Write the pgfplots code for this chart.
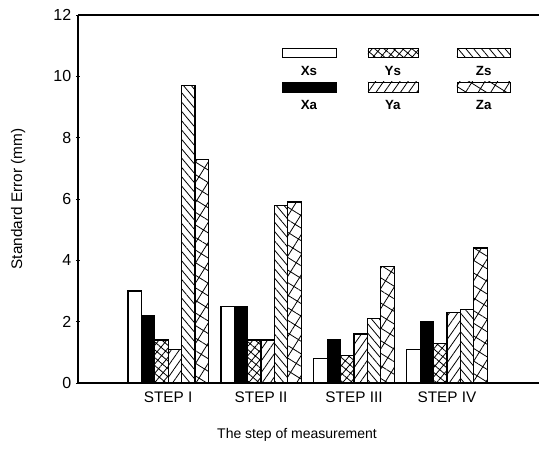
\documentclass[border=0pt]{standalone}
\usepackage{fontspec}
\setmainfont{Liberation Sans}
\usepackage{pgfplots}
\pgfplotsset{compat=1.18}
\usetikzlibrary{patterns.meta,calc}

\tikzset{
  pXs/.style={draw=black, fill=white},
  pXa/.style={draw=black, fill=black},
  pYs/.style={draw=black, fill=white, postaction={pattern={Hatch[angle=50,distance=4.5pt,line width=0.6pt]}}},
  pYa/.style={draw=black, fill=white, postaction={pattern={Lines[angle=55,distance=5pt,line width=0.6pt]}}},
  pZs/.style={draw=black, fill=white, postaction={pattern={Lines[angle=-50,distance=4.5pt,line width=0.6pt]}}},
  pZa/.style={draw=black, fill=white, postaction={pattern={Hatch[angle=58,distance=8pt,line width=0.6pt]}}},
}

\begin{document}
\begin{tikzpicture}
\begin{axis}[
    name=ax,
    scale only axis,
    width=345.75pt, height=276pt,
    xmin=-0.97, xmax=3.99,
    ymin=0, ymax=12,
    ytick={0,2,...,12},
    xtick={0,1,2,3},
    xticklabels={STEP I, STEP II, STEP III, STEP IV},
    x tick style={draw=none},
    y tick style={black, line width=0.6pt},
    tick align=inside,
    major tick length=3pt,
    axis x line=box, axis y line=left,
    axis line style={-, line width=0.8pt},
    ybar=0pt, bar width=0.144,
    every axis plot/.append style={line width=0.9pt},
    /pgf/number format/assume math mode=true,
    yticklabel style={font=\fontsize{12}{14}\selectfont},
    xticklabel style={font=\fontsize{11.5}{13}\selectfont},
    ylabel={Standard Error (mm)},
    xlabel={The step of measurement},
    every axis y label/.style={at={(axis description cs:-0.13,0.5)}, rotate=90, anchor=center, font=\fontsize{11.5}{14}\selectfont},
    every axis x label/.style={at={(axis description cs:0.475,-0.141)}, anchor=center, font=\fontsize{10.5}{12}\selectfont},
]
% Xs
\addplot[pXs] coordinates {(0,3.0) (1,2.5) (2,0.8) (3,1.1)};
% Xa
\addplot[pXa] coordinates {(0,2.2) (1,2.5) (2,1.4) (3,2.0)};
% Ys
\addplot[pYs] coordinates {(0,1.4) (1,1.4) (2,0.9) (3,1.3)};
% Ya
\addplot[pYa] coordinates {(0,1.1) (1,1.4) (2,1.6) (3,2.3)};
% Zs
\addplot[pZs] coordinates {(0,9.7) (1,5.8) (2,2.1) (3,2.4)};
% Za
\addplot[pZa] coordinates {(0,7.3) (1,5.9) (2,3.8) (3,4.4)};

% legend, three columns, label under each swatch
\draw[pXs] (rel axis cs:0.4425,0.886) rectangle (rel axis cs:0.5597,0.910);
\draw[pXa] (rel axis cs:0.4425,0.791) rectangle (rel axis cs:0.5597,0.818);
\draw[pYs] (rel axis cs:0.629,0.886) rectangle (rel axis cs:0.7375,0.910);
\draw[pYa] (rel axis cs:0.629,0.791) rectangle (rel axis cs:0.7375,0.818);
\draw[pZs] (rel axis cs:0.822,0.886) rectangle (rel axis cs:0.937,0.910);
\draw[pZa] (rel axis cs:0.822,0.791) rectangle (rel axis cs:0.937,0.818);
\begin{scope}[every node/.style={font=\bfseries\fontsize{10}{12}\selectfont}]
\node at (rel axis cs:0.501,0.848) {Xs};
\node at (rel axis cs:0.501,0.756) {Xa};
\node at (rel axis cs:0.683,0.848) {Ys};
\node at (rel axis cs:0.683,0.756) {Ya};
\node at (rel axis cs:0.880,0.848) {Zs};
\node at (rel axis cs:0.880,0.756) {Za};
\end{scope}
\end{axis}
\pgfresetboundingbox
\path[use as bounding box] ($(ax.south west)+(-58.5pt,-54pt)$) rectangle ($(ax.north east)+(0pt,11.25pt)$);
\end{tikzpicture}
\end{document}
